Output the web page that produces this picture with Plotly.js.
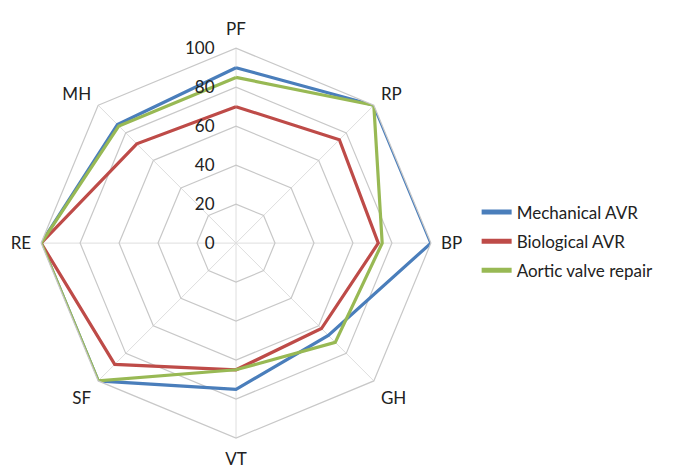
<!DOCTYPE html>
<html>
<head>
<meta charset="utf-8">
<script src="https://cdn.plot.ly/plotly-3.0.1.min.js"></script>
<style>html,body{margin:0;padding:0;background:#fff;}#chart{width:678px;height:468px;}</style>
</head>
<body>
<div id="chart"></div>
<script>
const categories = ["PF", "RP", "BP", "GH", "VT", "SF", "RE", "MH"];
const mechanical = [90, 100, 100, 67, 75, 100, 100, 86];
const biological = [70, 75, 73, 62, 65, 88, 100, 72];
const repair = [85, 100, 75, 72, 65, 100, 100, 85];
const seriesNames = ["Mechanical AVR", "Biological AVR", "Aortic valve repair"];
const radialTicks = [0, 20, 40, 60, 80, 100];

const colors = ["#4a7ebb", "#be4b48", "#98b954"];
const seriesVals = [mechanical, biological, repair];

const traces = seriesVals.map((vals, i) => ({
  type: "scatterpolar",
  mode: "lines",
  r: vals.concat([vals[0]]),
  theta: categories.concat([categories[0]]),
  name: seriesNames[i],
  legendgroup: "g" + i,
  line: {color: colors[i], width: 3.2},
  hoverinfo: "skip"
}));

const layout = {
  width: 678, height: 468,
  margin: {l: 0, r: 0, t: 0, b: 0},
  paper_bgcolor: "#fff",
  font: {family: "Lato, 'Open Sans', sans-serif", color: "#222", size: 17},
  showlegend: true,
  legend: {
    x: 0.703, y: 0.484, xanchor: "left", yanchor: "middle",
    font: {size: 17, color: "#222"},
    itemwidth: 30, tracegroupgap: 4, itemsizing: "constant"
  },
  polar: {
    domain: {x: [0.0605, 0.6357], y: [0.0641, 0.897]},
    gridshape: "linear",
    bgcolor: "#fff",
    radialaxis: {
      range: [0, 100],
      tickvals: radialTicks,
      ticktext: radialTicks.map(String),
      angle: 90,
      side: "counterclockwise",
      showline: false,
      ticks: "outside",
      ticklen: 15,
      tickcolor: "rgba(0,0,0,0)",
      gridcolor: "#c8c8c8",
      gridwidth: 1.2,
      tickfont: {size: 17, color: "#222"},
      tickangle: 90
    },
    angularaxis: {
      direction: "clockwise",
      rotation: 90,
      showline: true,
      linecolor: "#c8c8c8",
      linewidth: 1.2,
      gridcolor: "#dedede",
      gridwidth: 1,
      ticks: "outside",
      ticklen: 6,
      tickcolor: "rgba(0,0,0,0)",
      tickfont: {size: 17, color: "#222"}
    }
  }
};

Plotly.newPlot("chart", traces, layout, {displayModeBar: false, staticPlot: true});
</script>
</body>
</html>
